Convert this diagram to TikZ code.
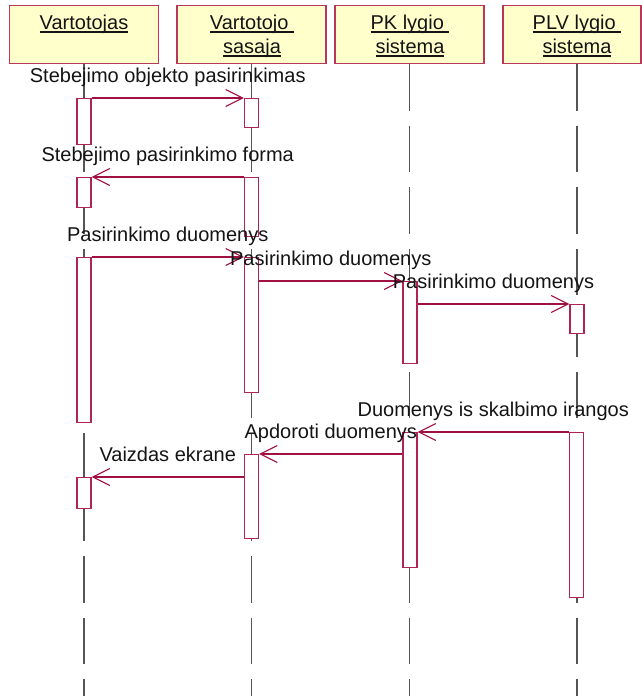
\documentclass[tikz,border=0pt]{standalone}
\usepackage{fontspec}
\setmainfont{Liberation Sans}
\usetikzlibrary{arrows.meta,calc}

\definecolor{msgred}{RGB}{160,16,64}
\definecolor{actred}{RGB}{176,36,84}
\definecolor{headfill}{RGB}{255,255,204}
\definecolor{headline}{RGB}{185,55,90}
\definecolor{lifegray}{RGB}{85,85,85}
\definecolor{inkblack}{RGB}{20,20,20}

% underlined word with a rule at a fixed depth below the baseline
\newsavebox\ulbox
\newcommand\ulword[1]{\sbox\ulbox{#1}\rlap{\rule[-3.6pt]{\wd\ulbox}{1.4pt}}\usebox\ulbox}
% one line of a lifeline title, with a fixed strut
\newcommand\hdline[1]{\rule[-5pt]{0pt}{20pt}\ulword{#1}}

\begin{document}
\begin{tikzpicture}[x=1pt,y=-1pt,
  every node/.style={font=\fontsize{20}{24}\selectfont, text=inkblack},
  headbox/.style={draw=headline, line width=1.2pt, fill=headfill,
    minimum width=149pt, minimum height=58pt, inner sep=0pt, anchor=north},
  headtitle/.style={align=center, inner sep=0pt, anchor=north},
  lifeline/.style={draw=lifegray, line width=1.1pt, dash pattern=on 46.5pt off 15pt},
  actbox/.style={draw=actred, line width=1.15pt, fill=white,
    minimum width=14pt, inner sep=0pt, anchor=north},
  msg/.style={draw=msgred, line width=1.15pt, -{Straight Barb[length=17pt,width=17pt]}},
  msglabel/.style={anchor=base, yshift=16pt, inner sep=0pt}
]
\useasboundingbox (0,0) rectangle (642,696);
\coordinate (bottomline) at (0,696);

% lifeline heads
\node[headbox] (hVart) at (84,5) {};
\node[headbox] (hSas) at (251.5,5) {};
\node[headbox] (hPK) at (409.5,5) {};
\node[headbox, minimum width=138pt] (hPLV) at (572,5) {};

\node[headtitle] (tVart) at (84,14) {\hdline{Vartotojas}};
\node[headtitle] (tSas) at (252,14) {\hdline{Vartotojo\ }\\\hdline{sasaja}};
\node[headtitle] (tPK) at (410,14) {\hdline{PK lygio\ }\\\hdline{sistema}};
\node[headtitle] (tPLV) at (577,14) {\hdline{PLV lygio\ }\\\hdline{sistema}};

% lifelines
\draw[lifeline] (hVart.south) -- (hVart.south |- bottomline);
\draw[lifeline] (hSas.south) -- (hSas.south |- bottomline);
\draw[lifeline] (hPK.south) -- (hPK.south |- bottomline);
\draw[lifeline] (tPLV |- hPLV.south) -- (tPLV |- bottomline);

% activations
\node[actbox, minimum height=46pt]  (A1) at (84,98) {};
\node[actbox, minimum height=30pt]  (A2) at (84,177) {};
\node[actbox, minimum height=165pt] (A3) at (84,257) {};
\node[actbox, minimum height=31pt]  (A4) at (84,477) {};

\node[actbox, minimum height=29pt]  (B1) at (251.5,98) {};
\node[actbox, minimum height=59pt]  (B2) at (251.5,177) {};
\node[actbox, minimum height=135pt] (B3) at (251.5,257) {};
\node[actbox, minimum height=84pt]  (B4) at (251.5,454) {};

\node[actbox, minimum height=82pt]  (C1) at (410,281) {};
\node[actbox, minimum height=135pt] (C2) at (410,432) {};

\node[actbox, minimum height=29pt]  (D1) at (577,304) {};
\node[actbox, minimum height=165pt] (D2) at (576.5,432) {};

% messages
\draw[msg] (A1.north east) -- (B1.north west)
  node[msglabel, midway] (m1) {Stebejimo objekto pasirinkimas};
\draw[msg] (B2.north west) -- (A2.north east)
  node[msglabel, midway] (m2) {Stebejimo pasirinkimo forma};
\draw[msg] (A3.north east) -- (B3.north west)
  node[msglabel, midway] (m3) {Pasirinkimo duomenys};
\draw[msg] (B3.east |- C1.north) -- (C1.north west)
  node[msglabel, midway] (m4) {Pasirinkimo duomenys};
\draw[msg] (C1.east |- D1.north) -- (D1.north west)
  node[msglabel, midway] (m5) {Pasirinkimo duomenys};
\draw[msg] (D2.north west) -- (C2.north east)
  node[msglabel, midway] (m6) {Duomenys is skalbimo irangos};
\draw[msg] (C2.west |- B4.north) -- (B4.north east)
  node[msglabel, midway] (m7) {Apdoroti duomenys};
\draw[msg] (B4.west |- A4.north) -- (A4.north east)
  node[msglabel, midway] (m8) {Vaizdas ekrane};
\end{tikzpicture}
\end{document}
